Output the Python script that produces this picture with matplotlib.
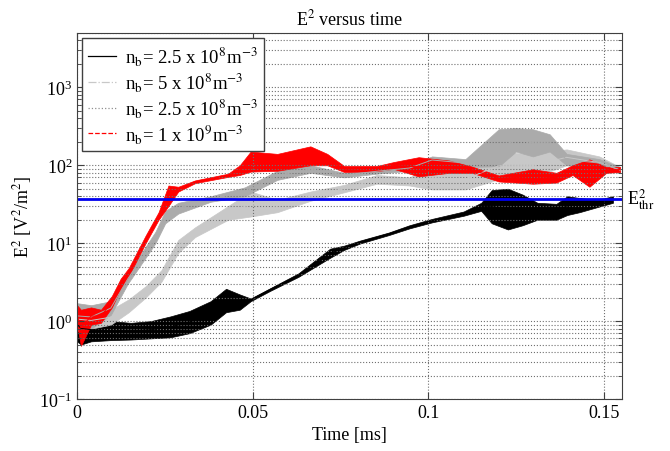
import matplotlib
matplotlib.use("Agg")
import matplotlib.pyplot as plt
import numpy as np

plt.rcParams['font.family'] = ['Liberation Serif', 'DejaVu Serif']
plt.rcParams['mathtext.fontset'] = 'stix'

# ---- data (time in ms, lower / upper envelope of E^2) ----
t_black = [0, 0.0011, 0.004, 0.0096, 0.0153, 0.021, 0.0266, 0.032, 0.038, 0.0424, 0.0463,
           0.0494, 0.055, 0.063, 0.072, 0.076, 0.0805, 0.0887, 0.0946, 0.101, 0.110, 0.115,
           0.118, 0.1226, 0.1268, 0.131, 0.1364, 0.1395, 0.143, 0.148, 0.1525]
lo_black = [0.55, 0.5, 0.55, 0.57, 0.58, 0.6, 0.62, 0.7, 0.9, 1.3, 1.4,
            1.8, 2.45, 3.7, 6.5, 8.2, 9.9, 12.7, 15.5, 18.5, 22.5, 26,
            18, 15, 17, 20, 20, 23, 25, 29, 33]
hi_black = [1.5, 1.3, 1.1, 1.0, 0.95, 1.0, 1.15, 1.35, 1.8, 2.6, 2.2,
            1.95, 2.65, 4.1, 8.5, 9.3, 10.8, 13.7, 17, 20.5, 25.5, 33,
            48, 50, 42, 33, 32, 40, 38, 36, 40]

t_red = [0, 0.0011, 0.004, 0.0068, 0.0099, 0.0124, 0.0147, 0.0195, 0.0232, 0.026, 0.0288,
         0.0336, 0.043, 0.0463, 0.0494, 0.057, 0.0664, 0.0712, 0.076, 0.0853, 0.0901, 0.0972,
         0.1059, 0.1124, 0.12, 0.1297, 0.1364, 0.141, 0.1458, 0.1506, 0.1545]
lo_red = [0.9, 0.48, 0.9, 0.95, 1.5, 2.6, 3.8, 10, 20, 30, 46,
          59, 71, 75, 83, 85, 100, 100, 82, 84, 90, 72,
          80, 80, 62, 58, 60, 75, 53, 80, 82]
hi_red = [1.6, 1.4, 1.5, 1.4, 2.1, 3.5, 4.8, 12.5, 25, 55, 53,
          64, 78, 100, 150, 140, 175, 140, 98, 98, 110, 127,
          115, 96, 74, 89, 80, 100, 119, 95, 95]

t_lgray = [0, 0.004, 0.0096, 0.0147, 0.0195, 0.024, 0.0288, 0.0336, 0.043, 0.0494, 0.057,
           0.0664, 0.076, 0.0853, 0.0946, 0.101, 0.1105, 0.12, 0.1297, 0.1393, 0.1486, 0.1545]
lo_lgray = [0.75, 0.8, 0.9, 1.3, 2.0, 3.2, 7.5, 12, 20, 22, 25,
            35, 45, 58, 55, 49, 49, 66, 70, 100, 90, 80]
hi_lgray = [1.5, 1.3, 1.4, 1.9, 2.8, 4.5, 11, 16, 30, 46, 36,
            46, 56, 75, 70, 97, 90, 147, 140, 160, 130, 95]

t_dgray = [0, 0.004, 0.0096, 0.0144, 0.0195, 0.0223, 0.0251, 0.0288, 0.038, 0.0477, 0.057,
           0.0664, 0.076, 0.0853, 0.0946, 0.101, 0.1105, 0.12, 0.1249, 0.1297, 0.1345, 0.1393,
           0.1486, 0.1545]
lo_dgray = [0.8, 0.8, 1.2, 3.0, 6.5, 10, 18, 24, 34, 40, 65,
            80, 70, 78, 85, 105, 95, 97, 150, 130, 150, 100,
            95, 80]
hi_dgray = [1.7, 1.6, 1.8, 4.0, 9, 14, 26, 33, 40, 52, 85,
            100, 80, 90, 100, 130, 120, 290, 300, 290, 250, 140,
            120, 95]

E_thr = 37.0

labels = [r'n$_\mathrm{b}$= 2.5 x 10$^8$m$^{-3}$',
          r'n$_\mathrm{b}$= 5 x 10$^8$m$^{-3}$',
          r'n$_\mathrm{b}$= 2.5 x 10$^8$m$^{-3}$',
          r'n$_\mathrm{b}$= 1 x 10$^9$m$^{-3}$']

fig = plt.figure(figsize=(6.7, 4.52), dpi=100)
ax = fig.add_axes([0.115, 0.115, 0.813, 0.81])
ax.set_yscale('log')

series = [
    (t_black, lo_black, hi_black, 'black', '-', 'black', labels[0]),
    (t_lgray, lo_lgray, hi_lgray, '#c8c8c8', '-.', '#c8c8c8', labels[1]),
    (t_dgray, lo_dgray, hi_dgray, '#ababab', ':', '#909090', labels[2]),
    (t_red, lo_red, hi_red, 'red', '--', 'red', labels[3]),
]
handles = []
for t, lo, hi, fc, ls, lc, lab in series:
    t = np.asarray(t); lo = np.asarray(lo); hi = np.asarray(hi)
    ax.fill_between(t, lo, hi, color=fc, linewidth=0.5, edgecolor=fc)
    ax.plot(t, np.sqrt(lo * hi), color=fc, linewidth=0.7)
    proxy, = ax.plot([], [], color=lc, linestyle=ls, linewidth=0.9, label=lab)
    handles.append(proxy)

ax.axhline(E_thr, color='#0000ee', linewidth=2)
ax.text(0.1565, E_thr, r'E$^2_\mathrm{thr}$', fontsize=13, va='center', ha='left',
        transform=ax.transData, clip_on=False)

ax.set_xlim(0, 0.155)
ax.set_ylim(0.1, 5000)
ax.set_xticks([0, 0.05, 0.1, 0.15])
ax.set_xticklabels(['0', '0.05', '0.1', '0.15'])
ax.tick_params(which='both', direction='in', top=True, right=True, labelsize=13,
               color='#404040')
ax.tick_params(which='major', length=5)
ax.tick_params(which='minor', length=3)
ax.tick_params(axis='x', which='minor', bottom=False, top=False)
ax.grid(True, which='major', axis='both', linestyle=':', color='#707070', linewidth=0.8)
ax.grid(True, which='minor', axis='y', linestyle=':', color='#707070', linewidth=0.8)
for s in ax.spines.values():
    s.set_color('#404040')

ax.set_xlabel('Time [ms]', fontsize=13)
ax.set_ylabel(r'E$^2$ [V$^2$/m$^2$]', fontsize=13)
ax.set_title(r'E$^2$ versus time', fontsize=13)

leg = ax.legend(handles=handles, loc='upper left', fontsize=13.5, fancybox=False,
                edgecolor='#404040', framealpha=1, borderaxespad=0.25,
                handlelength=1.5, handletextpad=0.45, labelspacing=0.15, borderpad=0.35)
leg.get_frame().set_linewidth(1.0)

fig.savefig('out.png', dpi=100)
